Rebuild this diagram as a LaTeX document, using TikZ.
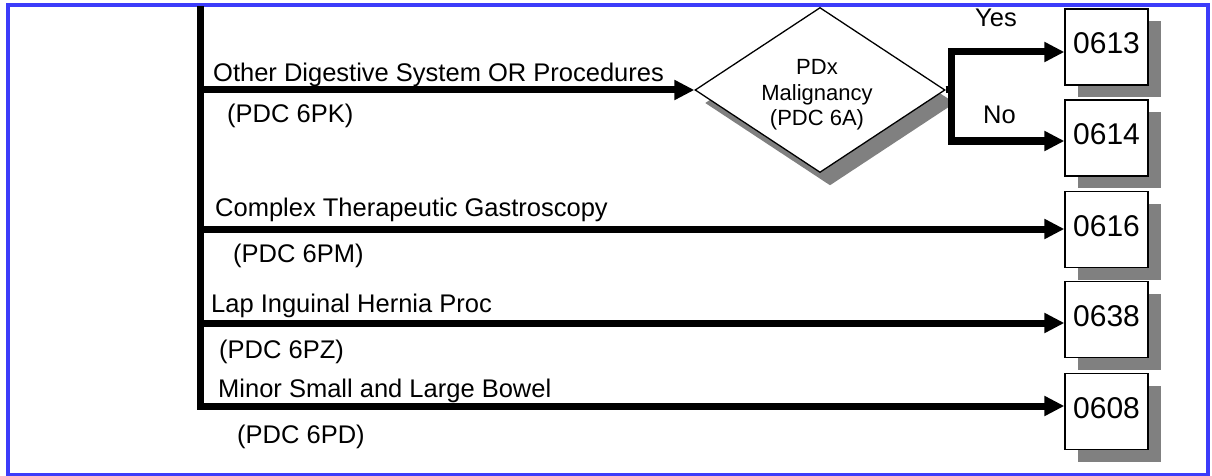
\documentclass[tikz,border=0pt]{standalone}
\usepackage{fontspec}
\setmainfont{Liberation Sans}
\usetikzlibrary{arrows.meta,shapes.geometric,shadows}
\definecolor{frameblue}{RGB}{60,60,250}
\definecolor{shadowgray}{RGB}{128,128,128}
\begin{document}
\begin{tikzpicture}[x=1pt,y=-1pt,
  lbl/.style={anchor=base west, inner sep=0pt, font=\fontsize{25.5}{30}\selectfont},
  conn/.style={line width=7pt, -{Triangle[length=20pt,width=19pt]}},
  code/.style={draw, line width=1.3pt, fill=white, minimum width=83pt, minimum height=76pt,
    inner sep=0pt, font=\fontsize{30}{34}\selectfont, text height=21.5pt, text depth=8pt,
    general shadow={fill=shadowgray, shadow xshift=13pt, shadow yshift=-12pt}},
  decision/.style={diamond, draw, line width=1.3pt, fill=white, minimum width=250pt,
    minimum height=165pt, inner sep=0pt,
    general shadow={fill=shadowgray, shadow xshift=10pt, shadow yshift=-13pt}},
  dtext/.style={align=center, inner sep=0pt, font=\fontsize{22}{25.5}\selectfont},
]
\useasboundingbox (0,0) rectangle (1212,476);
\draw[frameblue, line width=4pt] (8,5) rectangle (1208,474.5);

% decision and result boxes
\node[decision] (d) at (820,90) {};
\node[dtext] (dt) at (817,95) {PDx\\Malignancy\\(PDC 6A)};
\node[code] (b0613) at (1106.5,47) {0613};
\node[code] (b0614) at (1106.5,138) {0614};
\node[code] (b0616) at (1106.5,229.5) {0616};
\node[code] (b0638) at (1106.5,319.5) {0638};
\node[code] (b0608) at (1106.5,411.5) {0608};

% trunk coordinates
\coordinate (top) at (200,6);
\coordinate (t1) at (200,90);
\coordinate (t2) at (200,229);
\coordinate (t3) at (200,323);
\coordinate (t4) at (200,406);
\coordinate (dj) at (951,90);
\coordinate (yy) at (951,52);
\coordinate (yn) at (951,141);

% connectors
\draw[conn] (top) -- (t4) -- (t4 -| b0608.west);
\draw[conn] (t1) -- (d.west);
\draw[conn] (t2) -- (t2 -| b0616.west);
\draw[conn] (t3) -- (t3 -| b0638.west);
\draw[conn] (d.east) -- (dj) -- (yy) -- (yy -| b0613.west);
\draw[conn] (d.east) -- (dj) -- (yn) -- (yn -| b0614.west);

% labels
\node[lbl] (l1) at (213,82) {Other Digestive System OR Procedures};
\node[lbl] (l1b) at (227,123) {(PDC 6PK)};
\node[lbl] (l2) at (215,216) {Complex Therapeutic Gastroscopy};
\node[lbl] (l2b) at (233,262) {(PDC 6PM)};
\node[lbl] (l3) at (211,312) {Lap Inguinal Hernia Proc};
\node[lbl] (l3b) at (219,358) {(PDC 6PZ)};
\node[lbl] (l4) at (218,397) {Minor Small and Large Bowel};
\node[lbl] (l4b) at (237,443) {(PDC 6PD)};
\node[lbl] (yes) at (975,27) {Yes};
\node[lbl] (no) at (983,124) {No};
\end{tikzpicture}
\end{document}
